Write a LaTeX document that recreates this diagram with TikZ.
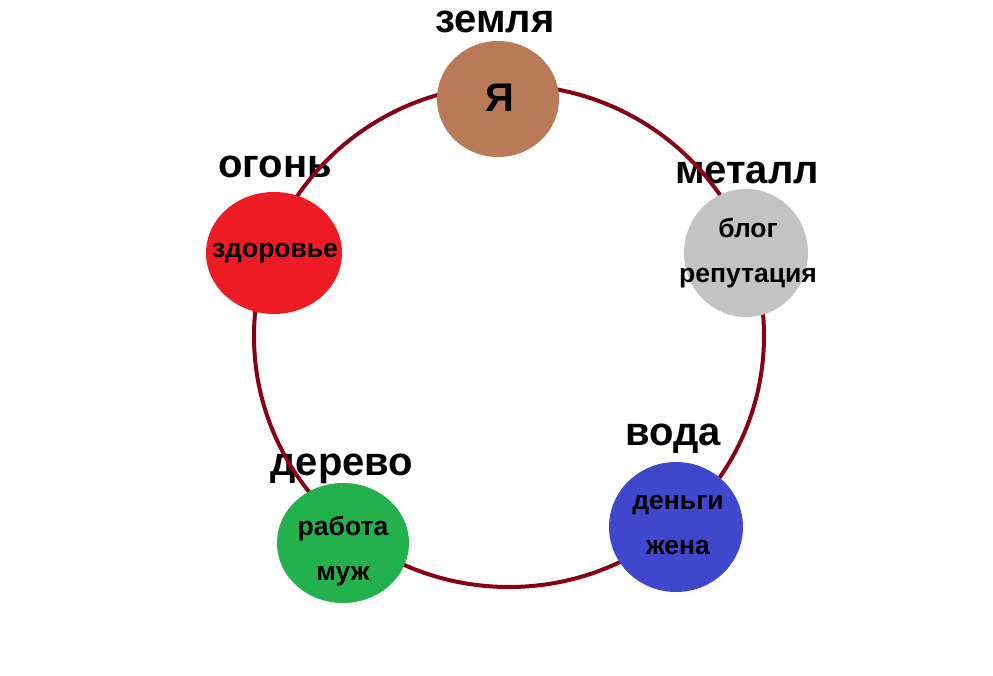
\documentclass[tikz,border=0pt]{standalone}
\usepackage{fontspec}
\setmainfont{Liberation Sans}
\usetikzlibrary{shapes.geometric}
\definecolor{ringred}{RGB}{136,0,21}
\definecolor{earthbrown}{RGB}{185,122,87}
\definecolor{metalgray}{RGB}{195,195,195}
\definecolor{waterblue}{RGB}{63,72,204}
\definecolor{woodgreen}{RGB}{34,177,76}
\definecolor{firered}{RGB}{237,28,36}
\begin{document}
\begin{tikzpicture}[
      x=1pt, y=-1pt,
      element/.style={ellipse, inner sep=0pt},
      inner/.style={align=center, inner sep=0pt,
                    font=\bfseries\fontsize{26.5}{45}\selectfont},
      lbl/.style={anchor=base, inner sep=0pt,
                  font=\bfseries\fontsize{40}{40}\selectfont}
    ]
    \useasboundingbox (0,0) rectangle (993,675);
    % element names
    \node[lbl] (earthlbl) at (495,32) {земля};
    \node[lbl] (metallbl) at (747,183) {металл};
    \node[lbl] (firelbl) at (275,177) {огонь};
    \node[lbl] (woodlbl) at (342,475) {дерево};
    \node[lbl] (waterlbl) at (673,445) {вода};
    % the cycle
    \coordinate (ring) at (509,336);
    \draw[ringred, line width=4pt] (ring) ellipse [x radius=255, y radius=251];
    % elements
    \node[element, fill=earthbrown, minimum width=122pt, minimum height=116pt,
          label={[inner, xshift=2pt, yshift=1pt,
                  font=\bfseries\fontsize{40}{40}\selectfont]center:Я}]
      (earth) at (498,99) {};
    \node[element, fill=metalgray, minimum width=124pt, minimum height=128pt,
          label={[inner, xshift=2pt]center:блог\\репутация}]
      (metal) at (746,253) {};
    \node[element, fill=waterblue, minimum width=134pt, minimum height=130pt,
          label={[inner, xshift=2pt, yshift=2pt]center:деньги\\жена}]
      (water) at (676,527) {};
    \node[element, fill=woodgreen, minimum width=132pt, minimum height=120pt,
          label={[inner, yshift=-8pt]center:работа\\муж}]
      (wood) at (343,543) {};
    \node[element, fill=firered, minimum width=136pt, minimum height=122pt,
          label={[inner, xshift=1pt]center:здоровье}]
      (fire) at (274,253) {};
\end{tikzpicture}
\end{document}
